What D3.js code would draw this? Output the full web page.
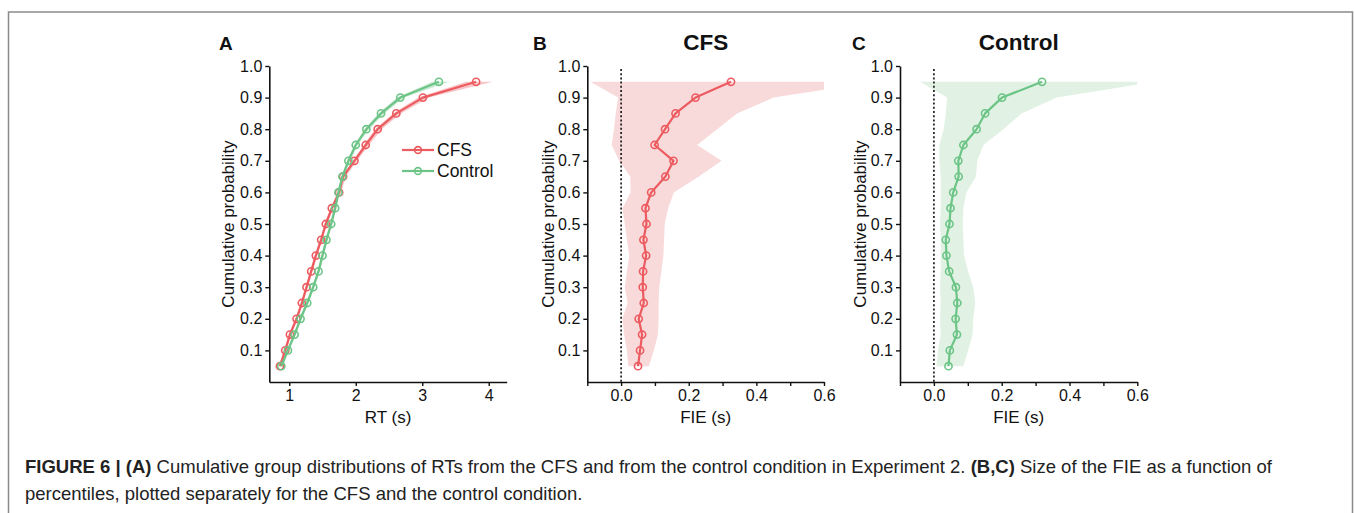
<!DOCTYPE html>
<html><head><meta charset="utf-8">
<script src="https://cdn.jsdelivr.net/npm/d3@7"></script>
<style>
html,body{margin:0;padding:0;background:#fff;}
svg{display:block;}
text{font-family:"Liberation Sans",Arial,Helvetica,sans-serif;}
</style></head>
<body>
<svg id="fig" width="1354" height="513"></svg>
<script>
// ---------- data ----------
const percentiles = [0.05,0.10,0.15,0.20,0.25,0.30,0.35,0.40,0.45,0.50,0.55,0.60,0.65,0.70,0.75,0.80,0.85,0.90,0.95];

// Panel A: cumulative RT distributions (s)
const cfsRT   = [0.86,0.94,1.01,1.11,1.19,1.26,1.33,1.40,1.48,1.55,1.64,1.75,1.81,1.98,2.15,2.33,2.61,3.01,3.81];
const cfsRTLo = [0.84,0.92,0.99,1.09,1.17,1.24,1.31,1.38,1.46,1.53,1.62,1.73,1.80,1.96,2.12,2.29,2.56,2.94,3.66];
const cfsRTHi = [0.88,0.96,1.03,1.13,1.21,1.28,1.35,1.42,1.50,1.57,1.67,1.78,1.85,2.02,2.20,2.39,2.68,3.10,4.06];
const ctlRT   = [0.88,0.98,1.08,1.17,1.27,1.36,1.44,1.50,1.56,1.63,1.69,1.74,1.80,1.89,2.00,2.16,2.38,2.67,3.25];
const ctlRTLo = [0.86,0.96,1.06,1.15,1.25,1.34,1.42,1.48,1.54,1.61,1.67,1.72,1.78,1.87,1.98,2.13,2.34,2.62,3.15];
const ctlRTHi = [0.90,1.00,1.10,1.19,1.29,1.38,1.46,1.52,1.58,1.65,1.71,1.76,1.82,1.92,2.03,2.20,2.43,2.73,3.41];

// Panel B: FIE (s), CFS
const cfsFIE   = [0.050,0.056,0.062,0.052,0.067,0.064,0.065,0.074,0.066,0.075,0.072,0.089,0.131,0.155,0.099,0.130,0.161,0.220,0.325];
const cfsFIELo = [0.021,0.017,0.009,0.004,0.019,0.011,0.017,0.024,0.017,0.011,0.004,0.028,0.027,-0.006,-0.028,-0.021,-0.016,-0.009,-0.091];
const cfsFIEHi = [0.082,0.097,0.109,0.111,0.111,0.113,0.119,0.125,0.127,0.129,0.139,0.156,0.230,0.297,0.225,0.284,0.343,0.451,0.750];

// Panel C: FIE (s), Control
const ctlFIE   = [0.043,0.047,0.068,0.064,0.069,0.065,0.045,0.037,0.035,0.046,0.049,0.057,0.073,0.072,0.087,0.126,0.151,0.201,0.319];
const ctlFIELo = [0.008,0.012,0.020,0.018,0.020,0.018,0.020,0.020,0.020,0.018,0.020,0.020,0.020,0.016,0.016,0.029,0.035,0.039,-0.041];
const ctlFIEHi = [0.087,0.101,0.114,0.116,0.122,0.116,0.101,0.089,0.087,0.085,0.087,0.096,0.124,0.128,0.146,0.205,0.259,0.362,0.650];

const yTicks = [0.1,0.2,0.3,0.4,0.5,0.6,0.7,0.8,0.9,1.0];
const rtTicks = [1,2,3,4];
const fieTicks = [-0.1,0,0.1,0.2,0.3,0.4,0.5,0.6];
const fieLabelled = [0,0.2,0.4,0.6];
const legendLabels = ["CFS","Control"];
const panelLetters = ["A","B","C"];
const panelTitles = ["","CFS","Control"];

// ---------- style ----------
const RED = "#ec5b60", GREEN = "#6cc486";
const RED_BAND = "#f9dadb", GREEN_BAND = "#e1f2e4";

const svg = d3.select("#fig");

// frame
svg.append("path")
  .attr("d","M8.5,520 L8.5,12 L1352.5,12 L1352.5,520")
  .attr("fill","none").attr("stroke","#8a8a8a").attr("stroke-width",1.5);

const yTop = 66, yBot = 382;
const y = d3.scaleLinear().domain([0,1]).range([yBot,yTop]);

function makeAxes(g, x, xTicks, xFmt, xLabel, yLabelX) {
  const ax = g.append("g").attr("transform",`translate(0,${yBot})`)
    .call(d3.axisBottom(x).tickValues(xTicks).tickSize(4).tickPadding(4).tickSizeOuter(0).tickFormat(xFmt));
  const ay = g.append("g").attr("transform",`translate(${x.range()[0]},0)`)
    .call(d3.axisLeft(y).tickValues(yTicks).tickSize(4).tickPadding(3).tickSizeOuter(0).tickFormat(d3.format(".1f")));
  [ax,ay].forEach(a=>{
    a.select(".domain").attr("stroke","#111").attr("stroke-width",1.6);
    a.selectAll(".tick line").attr("stroke","#111").attr("stroke-width",1.4);
    a.selectAll(".tick text").attr("fill","#111").style("font-size","16px")
      .style("font-family","'Liberation Sans',Arial,sans-serif");
  });
  const [x0,x1] = x.range();
  g.append("text").attr("x",(x0+x1)/2).attr("y",423).attr("text-anchor","middle")
    .style("font-size","17px").attr("fill","#111").text(xLabel);
  g.append("text").attr("transform",`translate(${yLabelX},${(yTop+yBot)/2}) rotate(-90)`)
    .attr("text-anchor","middle").style("font-size","17px").attr("fill","#111").text("Cumulative probability");
}

function drawSeries(g, x, vals, color) {
  const pts = vals.map((v,i)=>[v,percentiles[i]]);
  g.append("path").datum(pts)
    .attr("d", d3.line().x(d=>x(d[0])).y(d=>y(d[1])))
    .attr("fill","none").attr("stroke",color).attr("stroke-width",2.2).attr("stroke-linejoin","round");
  g.selectAll(null).data(pts).enter().append("circle")
    .attr("cx",d=>x(d[0])).attr("cy",d=>y(d[1])).attr("r",3.6)
    .attr("fill","none").attr("stroke",color).attr("stroke-width",1.6);
}

function drawBand(g, x, lo, hi, fill, opacity, clipId) {
  const pts = percentiles.map((p,i)=>({p, lo:lo[i], hi:hi[i]}));
  const path = g.append("path").datum(pts)
    .attr("d", d3.area().y(d=>y(d.p)).x0(d=>x(d.lo)).x1(d=>x(d.hi)))
    .attr("fill",fill).attr("fill-opacity",opacity).attr("stroke","none");
  if (clipId) path.attr("clip-path",`url(#${clipId})`);
}

// ---------- Panel A ----------
{
  const g = svg.append("g");
  const x = d3.scaleLinear().domain([0.7,4.27]).range([269.3,506.7]);
  drawBand(g, x, cfsRTLo, cfsRTHi, RED, 0.35);
  drawBand(g, x, ctlRTLo, ctlRTHi, GREEN, 0.35);
  drawSeries(g, x, cfsRT, RED);
  drawSeries(g, x, ctlRT, GREEN);
  makeAxes(g, x, rtTicks, d3.format("d"), "RT (s)", 234);
  // legend
  const lg = g.append("g");
  [[RED,150],[GREEN,171]].forEach((c,i)=>{
    lg.append("line").attr("x1",402).attr("x2",434).attr("y1",c[1]).attr("y2",c[1])
      .attr("stroke",c[0]).attr("stroke-width",2.2);
    lg.append("circle").attr("cx",418).attr("cy",c[1]).attr("r",3.4)
      .attr("fill","none").attr("stroke",c[0]).attr("stroke-width",1.6);
    lg.append("text").attr("x",437).attr("y",c[1]).attr("dy","0.36em")
      .style("font-size","17.5px").attr("fill","#111").text(legendLabels[i]);
  });
  g.append("text").attr("x",219).attr("y",50).style("font-size","19px").style("font-weight","bold")
    .attr("fill","#111").text(panelLetters[0]);
}

// ---------- Panels B, C ----------
function fiePanel(x0, x1, vals, lo, hi, color, band, letterX, yLabelX, idx) {
  const g = svg.append("g");
  const x = d3.scaleLinear().domain([-0.1,0.6]).range([x0,x1]);
  const clipId = "clip"+idx;
  svg.append("clipPath").attr("id",clipId).append("rect")
    .attr("x",x0).attr("y",yTop-10).attr("width",x1-x0).attr("height",yBot-yTop+10);
  drawBand(g, x, lo, hi, band, 1, clipId);
  g.append("line").attr("x1",x(0)).attr("x2",x(0)).attr("y1",69).attr("y2",yBot)
    .attr("stroke","#111").attr("stroke-width",1.6).attr("stroke-dasharray","2,2.2");
  drawSeries(g, x, vals, color);
  makeAxes(g, x, fieTicks, d=>fieLabelled.some(v=>Math.abs(v-d)<1e-9)?d3.format(".1f")(d):"", "FIE (s)", yLabelX);
  g.append("text").attr("x",letterX).attr("y",50).style("font-size","19px").style("font-weight","bold")
    .attr("fill","#111").text(panelLetters[idx]);
  g.append("text").attr("x",(x0+x1)/2).attr("y",50).attr("text-anchor","middle")
    .style("font-size","22.5px").style("font-weight","bold").attr("fill","#111").text(panelTitles[idx]);
}
fiePanel(587.3, 824, cfsFIE, cfsFIELo, cfsFIEHi, RED, RED_BAND, 533, 554, 1);
fiePanel(900, 1137.3, ctlFIE, ctlFIELo, ctlFIEHi, GREEN, GREEN_BAND, 852, 866, 2);

// ---------- caption ----------
const cap = svg.append("g").attr("fill","#222").style("font-size","18.5px");
const l1 = cap.append("text").attr("x",25).attr("y",473);
l1.append("tspan").style("font-weight","bold").text("FIGURE 6 | (A)");
l1.append("tspan").text(" Cumulative group distributions of RTs from the CFS and from the control condition in Experiment 2. ");
l1.append("tspan").style("font-weight","bold").text("(B,C)");
l1.append("tspan").text(" Size of the FIE as a function of");
cap.append("text").attr("x",25).attr("y",500).text("percentiles, plotted separately for the CFS and the control condition.");
</script>
</body></html>
